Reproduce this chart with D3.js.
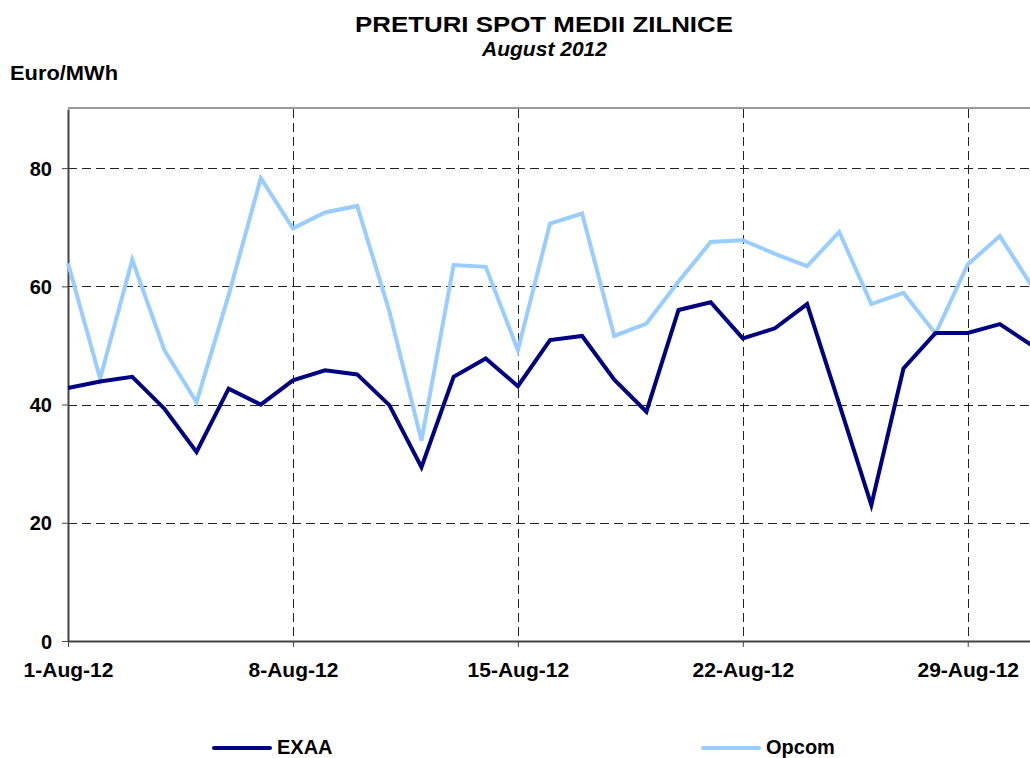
<!DOCTYPE html>
<html>
<head>
<meta charset="utf-8">
<script src="https://cdn.jsdelivr.net/npm/d3@7"></script>
<style>
  body { margin: 0; background: #fff; }
  svg { font-family: "Liberation Sans", Arial, sans-serif; }
</style>
</head>
<body>
<script>
// daily average spot prices, August 2012
var days = ["2012-08-01","2012-08-02","2012-08-03","2012-08-04","2012-08-05","2012-08-06","2012-08-07","2012-08-08",
  "2012-08-09","2012-08-10","2012-08-11","2012-08-12","2012-08-13","2012-08-14","2012-08-15","2012-08-16",
  "2012-08-17","2012-08-18","2012-08-19","2012-08-20","2012-08-21","2012-08-22","2012-08-23","2012-08-24",
  "2012-08-25","2012-08-26","2012-08-27","2012-08-28","2012-08-29","2012-08-30","2012-08-31"];
var exaa = [42.8, 43.9, 44.7, 39.3, 32.0, 42.7, 40.0, 44.1, 45.8, 45.1, 39.9, 29.4, 44.7, 47.8, 43.1, 50.9,
  51.6, 44.2, 38.8, 56.0, 57.3, 51.2, 52.9, 57.0, 40.1, 23.0, 46.1, 52.1, 52.1, 53.6, 50.0];
var opcom = [63.9, 44.4, 64.5, 49.2, 40.4, 58.5, 78.3, 69.8, 72.5, 73.6, 55.8, 33.9, 63.6, 63.3, 49.2, 70.6,
  72.3, 51.6, 53.7, 60.8, 67.5, 67.8, 65.5, 63.4, 69.2, 57.0, 58.9, 52.0, 63.7, 68.5, 60.0];
var yTicks = [0, 20, 40, 60, 80];
var xTickDays = ["2012-08-01","2012-08-08","2012-08-15","2012-08-22","2012-08-29"];

var W = 1030, H = 758;
var pLeft = 68, pRight = 1032, pTop = 109, pBottom = 641;

var parse = d3.timeParse("%Y-%m-%d");
var dates = days.map(parse);

var svg = d3.select("body").append("svg")
    .attr("width", W)
    .attr("height", H);

var x = d3.scaleTime().domain([dates[0], dates[dates.length-1]]).range([pLeft, pRight]);
var y = d3.scaleLinear().domain([0, 90]).range([pBottom, pTop]);

// plot frame top
svg.append("line")
    .attr("x1", pLeft).attr("x2", pRight)
    .attr("y1", pTop - 1).attr("y2", pTop - 1)
    .attr("stroke", "#999").attr("stroke-width", 2);

// gridlines
svg.append("g").selectAll("line")
    .data(yTicks.filter(function(d){ return d > 0; }))
  .enter().append("line")
    .attr("x1", pLeft).attr("x2", pRight)
    .attr("y1", function(d){ return Math.round(y(d)) + 0.5; })
    .attr("y2", function(d){ return Math.round(y(d)) + 0.5; })
    .attr("stroke", "#222").attr("stroke-width", 1)
    .attr("stroke-dasharray", "9,5");

svg.append("g").selectAll("line")
    .data(xTickDays.slice(1).map(parse))
  .enter().append("line")
    .attr("x1", function(d){ return Math.round(x(d)) + 0.5; })
    .attr("x2", function(d){ return Math.round(x(d)) + 0.5; })
    .attr("y1", pTop).attr("y2", pBottom)
    .attr("stroke", "#222").attr("stroke-width", 1)
    .attr("stroke-dasharray", "9,5");

// axes
var yAxis = svg.append("g")
    .attr("transform", "translate(" + pLeft + ",0)")
    .call(d3.axisLeft(y).tickValues(yTicks).tickSize(6).tickSizeOuter(0).tickPadding(10)
      .tickFormat(d3.format("d")));
var xAxis = svg.append("g")
    .attr("transform", "translate(0," + pBottom + ")")
    .call(d3.axisBottom(x).tickValues(xTickDays.map(parse)).tickSize(6).tickSizeOuter(0).tickPadding(15)
      .tickFormat(d3.timeFormat("%-d-%b-%y")));

[yAxis, xAxis].forEach(function(a) {
  a.select(".domain").attr("stroke", "#444").attr("stroke-width", 2);
  a.selectAll(".tick line").attr("stroke", "#444");
  a.selectAll("text")
    .attr("fill", "#000")
    .style("font-weight", "bold")
    .style("font-family", "'Liberation Sans', Arial, sans-serif");
});
yAxis.selectAll("text").style("font-size", "20px").attr("dy", "0.36em");
xAxis.selectAll("text").style("font-size", "21px");

// lines
var line = function(vals) {
  return d3.line()
    .x(function(d, i){ return x(dates[i]); })
    .y(function(d){ return y(d); })(vals);
};

svg.append("path")
    .attr("d", line(opcom))
    .attr("fill", "none")
    .attr("stroke", "#99ccff")
    .attr("stroke-width", 4);

svg.append("path")
    .attr("d", line(exaa))
    .attr("fill", "none")
    .attr("stroke", "#000080")
    .attr("stroke-width", 4);

// titles
svg.append("text")
    .attr("x", 355).attr("y", 32)
    .attr("textLength", 378).attr("lengthAdjust", "spacingAndGlyphs")
    .style("font-size", "22px").style("font-weight", "bold")
    .text("PRETURI SPOT MEDII ZILNICE");
svg.append("text")
    .attr("x", 482).attr("y", 56)
    .attr("textLength", 125).attr("lengthAdjust", "spacingAndGlyphs")
    .style("font-size", "20px").style("font-weight", "bold").style("font-style", "italic")
    .text("August 2012");
svg.append("text")
    .attr("x", 10).attr("y", 80)
    .attr("textLength", 108).attr("lengthAdjust", "spacingAndGlyphs")
    .style("font-size", "20px").style("font-weight", "bold")
    .text("Euro/MWh");

// legend
var legend = [{name: "EXAA", color: "#000080", x: 214}, {name: "Opcom", color: "#99ccff", x: 703}];
var lg = svg.append("g").selectAll("g").data(legend).enter().append("g");
lg.append("line")
    .attr("x1", function(d){ return d.x; })
    .attr("x2", function(d){ return d.x + 56; })
    .attr("y1", 748).attr("y2", 748)
    .attr("stroke", function(d){ return d.color; })
    .attr("stroke-width", 4)
    .attr("stroke-linecap", "round");
lg.append("text")
    .attr("x", function(d){ return d.x + 63; })
    .attr("y", 754)
    .style("font-size", "20px").style("font-weight", "bold")
    .text(function(d){ return d.name; });
</script>
</body>
</html>
